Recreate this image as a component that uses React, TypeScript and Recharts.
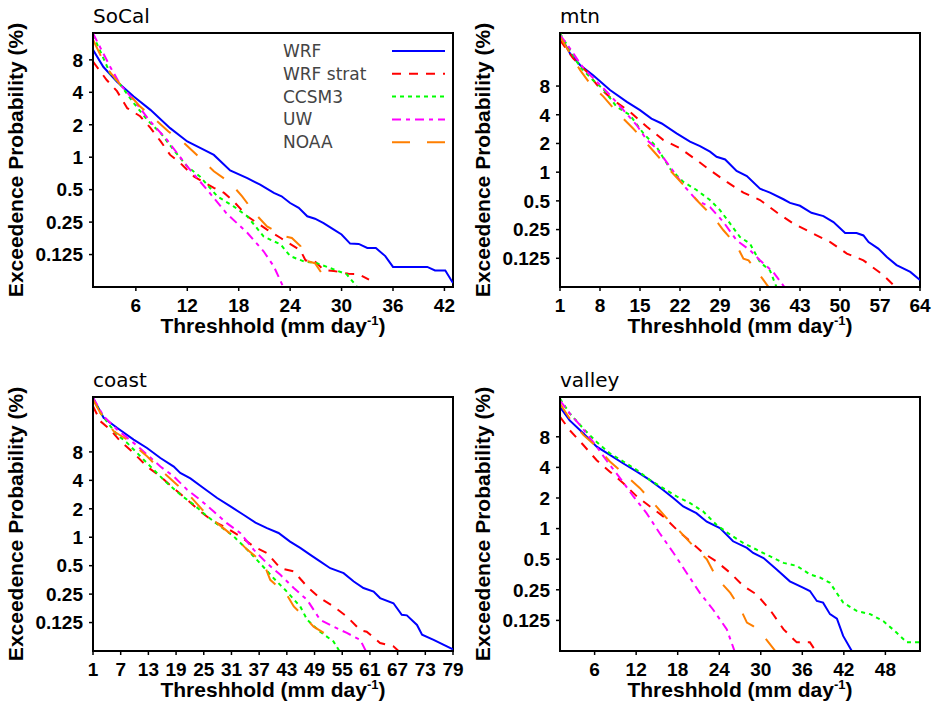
import React from 'react';
import { LineChart, Line, XAxis, YAxis, ReferenceArea, Legend, Label } from 'recharts';

type Pt = [number, number];

const seriesNames = ['WRF', 'WRF strat', 'CCSM3', 'UW', 'NOAA'];
const seriesColors = ['#0000ff', '#ff0000', '#00ff00', '#ff00ff', '#ff7f00'];
const seriesDashes = ['', '9 8', '4 4', '9 5 4 5', '18 17'];

const yTicks = [0.125, 0.25, 0.5, 1, 2, 4, 8];
const yBottom = 0.0625;

// ---- SoCal ----
const socalXTicks = [6, 12, 18, 24, 30, 36, 42];
const socalWRF: Pt[] = [[1, 9.9], [2.2, 6.9], [3.8, 5.0], [5.75, 3.65], [7.7, 2.75], [10, 1.86], [12, 1.4], [13.5, 1.22], [15.1, 1.05], [17, 0.755], [19, 0.64], [20.5, 0.556], [22.1, 0.466], [23, 0.434], [24, 0.376], [25, 0.339], [26, 0.283], [26.9, 0.269], [27.9, 0.245], [29.1, 0.213], [30, 0.192], [31, 0.158], [32, 0.157], [33, 0.144], [34, 0.144], [35.1, 0.121], [36, 0.096], [40, 0.096], [40.9, 0.089], [42.1, 0.089], [43, 0.068]];
const socalStrat: Pt[] = [[1, 7.7], [2.6, 5.2], [3.8, 4.1], [5, 2.85], [6.5, 2.4], [7.7, 1.87], [8.9, 1.4], [10, 1.05], [11.2, 0.88], [12.8, 0.66], [15.1, 0.52], [16.3, 0.466], [17.4, 0.39], [19, 0.283], [21.3, 0.213], [22.9, 0.178], [25.2, 0.137], [25.8, 0.11], [26.8, 0.11], [27.9, 0.09], [29.1, 0.088], [30.8, 0.083], [32, 0.082], [33.2, 0.073]];
const socalCCSM3: Pt[] = [[1, 13.6], [3, 6.0], [4.2, 4.7], [5.75, 3.18], [7.3, 2.23], [8.9, 1.67], [10.4, 1.17], [12, 0.82], [13.5, 0.66], [15.5, 0.434], [17.4, 0.35], [19, 0.283], [20.9, 0.184], [22.9, 0.155], [24, 0.121], [25.6, 0.108], [27.1, 0.104], [29.1, 0.091], [30.6, 0.082], [32, 0.06]];
const socalUW: Pt[] = [[1, 14.1], [3, 6.9], [4.2, 4.7], [5.75, 3.4], [7.7, 2.14], [9.6, 1.46], [12, 0.82], [14.3, 0.5], [16.6, 0.3], [19, 0.199], [20.9, 0.134], [22.1, 0.097], [23.3, 0.06]];
const socalNOAA: Pt[] = [[1, 12.3], [2.6, 6.7], [4.2, 4.7], [6.5, 2.95], [8.1, 2.3], [9.8, 1.73], [11.6, 1.36], [13.5, 0.98], [15.1, 0.74], [17, 0.58], [18.4, 0.434], [19.9, 0.3], [21.3, 0.228], [23.4, 0.184], [24.2, 0.178], [25.2, 0.15], [25.8, 0.11], [26.9, 0.104], [27.9, 0.079]];

// ---- mtn ----
const mtnXTicks = [1, 8, 15, 22, 29, 36, 43, 50, 57, 64];
const mtnWRF: Pt[] = [[1, 27.5], [2.75, 17.6], [4.5, 13.3], [6.8, 10.4], [9.75, 7.27], [12.7, 5.47], [15, 4.47], [17, 3.65], [18.8, 3.24], [21.4, 2.55], [23.75, 2.09], [25.5, 1.88], [27.25, 1.64], [28.4, 1.45], [29.9, 1.36], [31.9, 1.03], [33.7, 0.91], [36, 0.67], [37.75, 0.61], [40.1, 0.52], [41.25, 0.476], [43, 0.444], [45, 0.375], [47.1, 0.346], [48.85, 0.3], [50.9, 0.23], [52.9, 0.23], [54.1, 0.217], [55, 0.185], [56.7, 0.158], [58.2, 0.129], [59.9, 0.106], [62.3, 0.09], [64, 0.074]];
const mtnStrat: Pt[] = [[1, 24.3], [3.3, 15.6], [5.7, 11.3], [7.7, 7.9], [10.3, 5.7], [13.25, 4.3], [16.2, 2.99], [19.1, 2.17], [22, 1.78], [24.9, 1.34], [27.25, 1.05], [30.2, 0.79], [33.1, 0.61], [36, 0.51], [38.9, 0.38], [41.8, 0.29], [45.3, 0.227], [48.3, 0.185], [51.2, 0.14], [54.1, 0.119], [57.6, 0.083], [60, 0.06]];
const mtnCCSM3: Pt[] = [[1, 28.6], [2.75, 19.1], [4.5, 12.7], [6.8, 9.2], [8.6, 7.4], [10.9, 4.85], [13.25, 3.97], [15.6, 2.55], [17.9, 1.84], [20.25, 1.09], [22.6, 0.79], [24.9, 0.65], [27.25, 0.51], [29, 0.4], [30.75, 0.29], [32.5, 0.209], [34.25, 0.178], [36, 0.114], [37.75, 0.093], [39, 0.06]];
const mtnUW: Pt[] = [[1, 27.5], [2.75, 19.8], [5.1, 12.3], [7.4, 8.9], [9.75, 6.45], [12.1, 4.47], [14.4, 3.12], [16.2, 2.17], [17.9, 1.78], [20.25, 1.14], [22.6, 0.73], [24.9, 0.51], [27.25, 0.43], [29.6, 0.3], [31.9, 0.193], [34.25, 0.152], [36, 0.119], [38.3, 0.09], [40.5, 0.06]];
const mtnNOAA: Pt[] = [[1, 26.4], [2.75, 17.6], [4.5, 11.8], [6.25, 8.5], [8.6, 6.2], [10.9, 4.3], [13.8, 2.87], [15.9, 2.09], [18.5, 1.39], [20.5, 1.01], [23.2, 0.67], [25.2, 0.49], [27.8, 0.34], [29.6, 0.246], [31.9, 0.171], [33.1, 0.124], [34, 0.119], [36, 0.083], [37.7, 0.06]];

// ---- coast ----
const coastXTicks = [1, 7, 13, 19, 25, 31, 37, 43, 49, 55, 61, 67, 73, 79];
const coastWRF: Pt[] = [[1, 29.9], [3.3, 18.4], [6.2, 14.4], [9.8, 10.8], [12.7, 8.8], [15.6, 6.9], [18.5, 5.6], [19.9, 4.8], [22.1, 4.2], [25, 3.3], [27.9, 2.6], [30.7, 2.13], [33.6, 1.73], [36.2, 1.43], [38.7, 1.25], [41.2, 1.11], [43.7, 0.9], [45.9, 0.77], [48.1, 0.65], [50.2, 0.555], [52.4, 0.47], [55.3, 0.417], [57.5, 0.34], [59.6, 0.29], [61.8, 0.266], [63.2, 0.227], [66.1, 0.2], [67.9, 0.151], [69, 0.149], [71.2, 0.118], [72.3, 0.093], [74.8, 0.082], [76.9, 0.073], [79, 0.065]];
const coastStrat: Pt[] = [[1, 24.4], [2.6, 16.9], [4.75, 13.8], [6.9, 10.4], [9.8, 7.8], [12.7, 5.6], [15.6, 4.4], [18.5, 3.3], [21.4, 2.5], [24.2, 1.88], [27.1, 1.47], [30, 1.25], [32.9, 1.02], [35.8, 0.8], [38.7, 0.68], [41.6, 0.47], [44.5, 0.435], [47.4, 0.3], [50.2, 0.227], [53.1, 0.185], [56, 0.145], [58.9, 0.104], [60.3, 0.1], [63.2, 0.076], [66.1, 0.07], [67.6, 0.06]];
const coastCCSM3: Pt[] = [[1, 29.9], [2.6, 20.7], [4.75, 15], [6.2, 12.2], [8.4, 9.97], [11.25, 7.2], [14.1, 5.2], [17, 3.76], [19.9, 2.83], [22.8, 2.22], [25.7, 1.67], [28.6, 1.3], [31.5, 1.02], [34.4, 0.74], [37.2, 0.53], [40.1, 0.37], [43, 0.266], [45.9, 0.185], [47.4, 0.134], [50.2, 0.1], [53.1, 0.079], [54.6, 0.06]];
const coastUW: Pt[] = [[1, 29.9], [3.3, 19.1], [6.2, 13.8], [9.8, 9.97], [12.7, 7.5], [15.6, 5.6], [18.5, 4.4], [21.4, 3.18], [24.2, 2.5], [27.1, 1.88], [30, 1.41], [32.9, 1.11], [35.8, 0.74], [38.7, 0.53], [41.6, 0.4], [44.5, 0.29], [47.4, 0.217], [50.2, 0.134], [53.1, 0.113], [56, 0.097], [58.9, 0.082], [60.3, 0.06]];
const coastNOAA: Pt[] = [[1, 28.6], [2.6, 20.7], [5.5, 13.2], [8.4, 10.8], [12.7, 7.2], [15.6, 5.2], [19.2, 3.6], [22.1, 2.7], [25, 1.88], [27.9, 1.41], [31.5, 1.02], [34.4, 0.74], [38, 0.53], [39.4, 0.354], [43, 0.246], [44.5, 0.185], [47.4, 0.134], [48.8, 0.113], [51, 0.097]];

// ---- valley ----
const valleyXTicks = [6, 12, 18, 24, 30, 36, 42, 48];
const valleyWRF: Pt[] = [[1, 15.7], [2.4, 11.6], [4.4, 8.6], [6.3, 6.4], [8.2, 5.3], [10.15, 4.37], [12.1, 3.63], [14, 3.0], [15.9, 2.4], [17.4, 1.99], [18.8, 1.65], [20.7, 1.42], [22.2, 1.17], [24.1, 1.01], [26, 0.75], [28, 0.645], [28.9, 0.575], [30.4, 0.513], [32.3, 0.395], [34.2, 0.303], [36.1, 0.262], [37.1, 0.243], [38.1, 0.194], [39, 0.187], [40, 0.144], [41, 0.13], [41.9, 0.088], [43.3, 0.06]];
const valleyStrat: Pt[] = [[1, 12.6], [2.4, 9.3], [4.4, 6.6], [6.3, 4.7], [8.2, 3.63], [10.15, 2.79], [12.1, 2.07], [14, 1.65], [15.9, 1.32], [17.85, 0.98], [19.8, 0.75], [21.7, 0.575], [23.6, 0.475], [25.6, 0.366], [27.5, 0.272], [29.4, 0.225], [31.3, 0.16], [33.3, 0.102], [35.2, 0.076], [37.1, 0.076], [38.1, 0.06]];
const valleyCCSM3: Pt[] = [[1, 19], [2.4, 13.6], [4.4, 9.6], [6.3, 7.1], [8.2, 5.5], [10.15, 4.57], [12.1, 3.77], [14, 3.0], [15.9, 2.5], [17.85, 2.07], [19.8, 1.78], [21.7, 1.47], [23.6, 1.09], [25.6, 0.87], [27.5, 0.72], [29.4, 0.62], [31.3, 0.535], [33.3, 0.46], [35.2, 0.43], [37.1, 0.354], [38.55, 0.33], [40, 0.293], [41.9, 0.187], [43.85, 0.155], [45.8, 0.144], [47.7, 0.123], [49.6, 0.095], [51.1, 0.076], [53, 0.076]];
const valleyUW: Pt[] = [[1, 18.2], [2.4, 13.6], [3.9, 10.4], [5.8, 7.1], [7.7, 4.7], [9.7, 3.12], [11.6, 2.07], [13.5, 1.42], [15.4, 0.9], [17.4, 0.575], [19.3, 0.366], [21.2, 0.233], [23.1, 0.16], [25.1, 0.102], [26.3, 0.06]];
const valleyNOAA: Pt[] = [[1, 16.9], [2.4, 12.1], [4.4, 8.3], [6.3, 6.4], [8.2, 4.57], [10.15, 3.5], [12.55, 2.5], [14.5, 1.78], [16.4, 1.27], [18.3, 0.94], [20.3, 0.67], [22.2, 0.5], [23.6, 0.33], [25.6, 0.233], [27, 0.166], [28, 0.119], [28.9, 0.11], [30.4, 0.088], [32.3, 0.06]];

interface PanelDef {
  title: string;
  left: number;
  top: number;
  xDomain: [number, number];
  xTicks: number[];
  yTop: number;
  series: Pt[][];
  legend: boolean;
}

const panels: PanelDef[] = [
  { title: 'SoCal', left: 0, top: 0, xDomain: [1, 43], xTicks: socalXTicks, yTop: 14.2, series: [socalWRF, socalStrat, socalCCSM3, socalUW, socalNOAA], legend: true },
  { title: 'mtn', left: 467, top: 0, xDomain: [1, 64], xTicks: mtnXTicks, yTop: 28.8, series: [mtnWRF, mtnStrat, mtnCCSM3, mtnUW, mtnNOAA], legend: false },
  { title: 'coast', left: 0, top: 364, xDomain: [1, 79], xTicks: coastXTicks, yTop: 30.5, series: [coastWRF, coastStrat, coastCCSM3, coastUW, coastNOAA], legend: false },
  { title: 'valley', left: 467, top: 364, xDomain: [1, 53], xTicks: valleyXTicks, yTop: 19.7, series: [valleyWRF, valleyStrat, valleyCCSM3, valleyUW, valleyNOAA], legend: false },
];

const FONT = '"DejaVu Sans", sans-serif';
const BOLDFONT = '"Liberation Sans", Arial, sans-serif';
const CW = 470;
const CH = 345;
const YW = 93;
const MT = 33;
const MR = 17;
const XH = 58;

const XLabel = (props: any) => {
  const vb = props.viewBox || {};
  const cx = vb.x + vb.width / 2;
  const y = vb.y + 46;
  return (
    <text x={cx} y={y} textAnchor="middle" fontSize={21} fontWeight="bold" fill="#000" fontFamily={BOLDFONT}>
      <tspan>Threshhold (mm day</tspan>
      <tspan dy={-8} fontSize={13}>-1</tspan>
      <tspan dy={8}>)</tspan>
    </text>
  );
};

const YLabel = (props: any) => {
  const vb = props.viewBox || {};
  const x = vb.x + 23;
  const cy = vb.y + vb.height / 2;
  return (
    <text x={x} y={cy} textAnchor="middle" fontSize={21} fontWeight="bold" fill="#000" fontFamily={BOLDFONT} transform={`rotate(-90 ${x} ${cy})`}>
      Exceedence Probability (%)
    </text>
  );
};

const LegendBox = () => (
  <svg width={175} height={118} style={{ display: 'block' }}>
    {seriesNames.map((n, i) => {
      const cy = 11 + i * 22.8;
      return (
        <g key={n}>
          <text x={0} y={cy + 6} fontSize={17} fill="#444" fontFamily={FONT}>{n}</text>
          <line x1={109} x2={162} y1={cy} y2={cy} stroke={seriesColors[i]} strokeWidth={2} strokeDasharray={seriesDashes[i] || undefined} />
        </g>
      );
    })}
  </svg>
);

const tickStyle = { fontSize: 19, fontWeight: 'bold', fill: '#000', fontFamily: BOLDFONT };

const Panel = ({ p }: { p: PanelDef }) => (
  <div style={{ position: 'absolute', left: p.left, top: p.top, width: CW, height: CH }}>
    <div style={{ position: 'absolute', left: YW, top: 6, fontSize: 20, lineHeight: '20px', fontFamily: FONT, color: '#000', zIndex: 2 }}>{p.title}</div>
    <LineChart width={CW} height={CH} margin={{ top: MT, right: MR, bottom: 0, left: 0 }}>
      <XAxis
        type="number"
        dataKey="x"
        domain={p.xDomain}
        ticks={p.xTicks}
        allowDataOverflow
        height={XH}
        tickSize={4}
        tickMargin={8}
        interval={0}
        axisLine={{ stroke: '#000', strokeWidth: 2 }}
        tickLine={{ stroke: '#000', strokeWidth: 1.5 }}
        tick={tickStyle}
        label={<Label content={XLabel} />}
      />
      <YAxis
        type="number"
        scale="log"
        domain={[yBottom, p.yTop]}
        ticks={yTicks}
        allowDataOverflow
        width={YW}
        tickSize={4}
        tickMargin={6}
        interval={0}
        axisLine={{ stroke: '#000', strokeWidth: 2 }}
        tickLine={{ stroke: '#000', strokeWidth: 1.5 }}
        tick={tickStyle}
        label={<Label content={YLabel} />}
      />
      <ReferenceArea x1={p.xDomain[0]} x2={p.xDomain[1]} y1={yBottom} y2={p.yTop} fill="none" stroke="#000" strokeWidth={2} ifOverflow="visible" />
      {p.series.map((s, i) => (
        <Line
          key={seriesNames[i]}
          data={s.map(([x, v]) => ({ x, v }))}
          dataKey="v"
          name={seriesNames[i]}
          type="linear"
          stroke={seriesColors[i]}
          strokeWidth={2}
          strokeDasharray={seriesDashes[i] || undefined}
          dot={false}
          activeDot={false}
          isAnimationActive={false}
        />
      ))}
      {p.legend && (
        <Legend
          layout="vertical"
          align="center"
          verticalAlign="middle"
          wrapperStyle={{ position: 'absolute', left: 283, top: 40, width: 175, height: 118 }}
          content={() => <LegendBox />}
        />
      )}
    </LineChart>
  </div>
);

export default function App() {
  return (
    <div style={{ position: 'absolute', left: 0, top: 0, width: 940, height: 703, background: '#fff', fontFamily: FONT }}>
      {panels.map((p) => (
        <Panel key={p.title} p={p} />
      ))}
    </div>
  );
}
